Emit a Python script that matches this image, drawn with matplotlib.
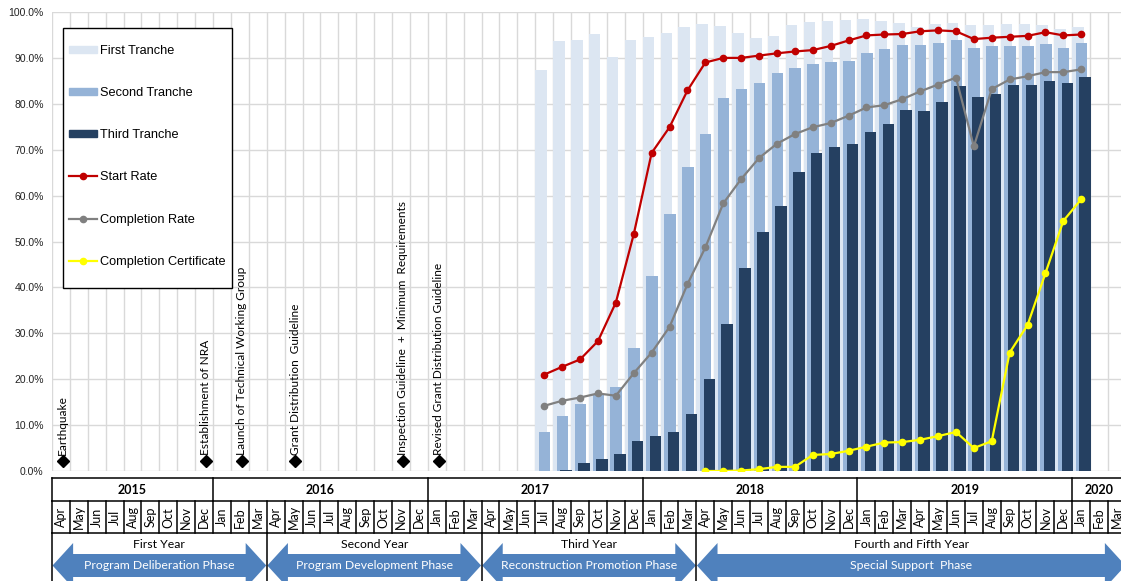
import matplotlib.pyplot as plt
from matplotlib.patches import Polygon, Rectangle, Patch
from matplotlib.lines import Line2D
import numpy as np

W, H = 1121, 581

# month axis: Apr 2015 .. Mar 2020
month_names = ['Jan', 'Feb', 'Mar', 'Apr', 'May', 'Jun', 'Jul', 'Aug', 'Sep', 'Oct', 'Nov', 'Dec']
n_months = 60
months = [month_names[(3 + i) % 12] for i in range(n_months)]

years = ['2015', '2016', '2017', '2018', '2019', '2020']
year_start = [0, 9, 21, 33, 45, 57]

phase_years = ['First Year', 'Second Year', 'Third Year', 'Fourth and Fifth Year']
phase_names = ['Program Deliberation Phase', 'Program Development Phase',
               'Reconstruction Promotion Phase', 'Special Support  Phase']
phase_bounds = [0, 12, 24, 36, 60]

events = ['Earthquake', 'Establishment of NRA', 'Launch of Technical Working Group',
          'Grant Distribution  Guideline', 'Inspection Guideline  +  Minimum  Requirements',
          'Revised Grant Distribution Guideline']
event_idx = [0, 8, 10, 13, 19, 21]

# series, Jul 2017 .. Jan 2020
bar_start = 27
first_tranche = [87.4, 93.7, 93.8, 95.2, 90.2, 93.8,
                 94.6, 95.5, 96.8, 97.4, 96.9, 95.4, 94.4, 94.8, 97.1, 97.8, 98.1, 98.3,
                 98.4, 98.1, 97.7, 96.8, 97.4, 97.7, 97.2, 97.2, 97.4, 97.4, 97.2, 96.4,
                 96.7]
second_tranche = [8.6, 12.0, 14.6, 16.6, 18.4, 26.9,
                  42.5, 56.0, 66.3, 73.4, 81.2, 83.2, 84.6, 86.8, 87.9, 88.7, 89.0, 89.3,
                  91.0, 91.9, 92.8, 92.8, 93.3, 93.8, 92.2, 92.5, 92.7, 92.7, 93.0, 92.1,
                  93.2]
third_tranche = [0.0, 0.2, 1.7, 2.7, 3.6, 6.5,
                 7.7, 8.6, 12.4, 20.0, 32.0, 44.2, 52.1, 57.7, 65.2, 69.2, 70.5, 71.2,
                 73.9, 75.7, 78.6, 78.5, 80.5, 83.9, 81.4, 82.2, 84.1, 84.2, 85.0, 84.6,
                 85.8]
start_rate = [21.0, 22.7, 24.3, 28.3, 36.7, 51.6,
              69.3, 74.9, 82.9, 89.0, 90.0, 90.0, 90.5, 91.0, 91.4, 91.7, 92.6, 93.8,
              94.9, 95.1, 95.2, 95.8, 96.0, 95.8, 94.1, 94.4, 94.6, 94.8, 95.6, 94.9,
              95.1]
completion_rate = [14.2, 15.3, 16.0, 16.9, 16.4, 21.3,
                   25.8, 31.4, 40.7, 48.7, 58.3, 63.6, 68.2, 71.3, 73.4, 74.9, 75.8, 77.4,
                   79.2, 79.7, 81.0, 82.7, 84.2, 85.7, 70.7, 83.2, 85.3, 86.0, 86.9, 86.9,
                   87.5]
# Apr 2018 .. Jan 2020
cert_start = 36
completion_cert = [0.0, 0.0, 0.1, 0.4, 0.9, 0.9, 3.5, 3.7, 4.4,
                   5.3, 6.2, 6.3, 6.8, 7.6, 8.5, 5.0, 6.5, 25.8, 31.8, 43.1, 54.5,
                   59.2]

c_light, c_mid, c_dark = '#DCE6F2', '#95B3D7', '#254061'
c_red, c_gray, c_yel = '#C00000', '#808080', '#FFFF00'
c_arrow = '#4F81BD'
tfont = 'Lato'

fig = plt.figure(figsize=(W / 100, H / 100), dpi=100)

# main chart
ax = fig.add_axes([52 / W, 1 - 471 / H, 1074 / W, 459 / H])
ax.set_xlim(0, n_months)
ax.set_ylim(0, 100)
ax.set_xticks(range(n_months + 1))
ax.set_yticks(range(0, 101, 10))
ax.set_yticklabels([f'{v:.1f}%' for v in range(0, 101, 10)],
                   fontsize=7.5, family='Liberation Sans', color='#222222')
ax.tick_params(axis='x', length=0, labelbottom=False)
ax.tick_params(axis='y', length=0, pad=6)
ax.grid(color='#D9D9D9', lw=1)
ax.set_axisbelow(True)
for s in ax.spines.values():
    s.set_visible(False)

x = np.arange(bar_start, bar_start + len(first_tranche))
bw = 0.64
ax.bar(x + 0.32, first_tranche, width=bw, color=c_light, zorder=2)
ax.bar(x + 0.52, second_tranche, width=bw, color=c_mid, zorder=2)
ax.bar(x + 0.72, third_tranche, width=bw, color=c_dark, zorder=2)

ax.plot(x + 0.5, start_rate, color=c_red, lw=1.6, marker='o', ms=4.5, zorder=5)
ax.plot(x + 0.5, completion_rate, color=c_gray, lw=1.6, marker='o', ms=4.5, zorder=5)
xc = np.arange(cert_start, cert_start + len(completion_cert))
ax.plot(xc + 0.5, completion_cert, color=c_yel, lw=1.6, marker='o', ms=4.5, zorder=5)

# milestones: diamond + vertical label
ev = np.array(event_idx) + 0.6
ax.plot(ev, [2.2] * len(ev), ls='none', marker='D', ms=6, color='black', zorder=6)
for name, xe in zip(events, ev):
    ax.text(xe, 3.4, name, rotation=90, ha='center', va='bottom',
            fontsize=8.6, family=tfont, zorder=6)

# legend with its own box
fig.add_artist(Rectangle((63 / W, 1 - 288 / H), 169 / W, 260 / H, transform=fig.transFigure,
                         facecolor='white', edgecolor='black', lw=1, zorder=4))
handles = [Patch(color=c_light), Patch(color=c_mid), Patch(color=c_dark),
           Line2D([], [], color=c_red, lw=1.6, marker='o', ms=4.5),
           Line2D([], [], color=c_gray, lw=1.6, marker='o', ms=4.5),
           Line2D([], [], color=c_yel, lw=1.6, marker='o', ms=4.5)]
labels = ['First Tranche', 'Second Tranche', 'Third Tranche', 'Start Rate',
          'Completion Rate', 'Completion Certificate']
fig.legend(handles, labels, loc='upper left', bbox_to_anchor=(69 / W, 1 - 45 / H),
           frameon=False, prop={'family': 'Liberation Sans', 'size': 9.2},
           handlelength=2.19, handleheight=0.5, handletextpad=0.25,
           labelspacing=2.36, borderaxespad=0, borderpad=0).set_zorder(5)

# timeline table below
tab = fig.add_axes([52 / W, 0, 1074 / W, (H - 478) / H])
tab.set_xlim(0, n_months)
tab.set_ylim(H, 478)
tab.axis('off')
y_top, y_mon, y_ph = 478, 501, 533.5
lk = dict(color='black', lw=1.1, clip_on=False)
for yy in (y_top, y_mon, y_ph):
    tab.plot([0, n_months], [yy, yy], **lk)
for b in year_start + [n_months]:
    tab.plot([b, b], [y_top, y_mon], **lk)
for b in range(n_months + 1):
    tab.plot([b, b], [y_mon, y_ph], **lk)
for b in phase_bounds:
    tab.plot([b, b], [y_ph, H + 5], **lk)

ends = year_start[1:] + [n_months]
for yr, a, b in zip(years, year_start, ends):
    tab.text((a + b) / 2, (y_top + y_mon) / 2 + 0.5, yr, ha='center', va='center',
             fontsize=9, fontweight='bold', family=tfont)
for i, m in enumerate(months):
    tab.text(i + 0.5, (y_mon + y_ph) / 2, m, rotation=90, ha='center', va='center',
             fontsize=9, family=tfont)

hl = 1.15
for k in range(len(phase_years)):
    x0, x1 = phase_bounds[k] + 0.03, phase_bounds[k + 1] - 0.03
    ym, bt, bb, ht, hb = 565.5, 554, 577, 543, 588
    pts = [(x0, ym), (x0 + hl, ht), (x0 + hl, bt), (x1 - hl, bt), (x1 - hl, ht), (x1, ym),
           (x1 - hl, hb), (x1 - hl, bb), (x0 + hl, bb), (x0 + hl, hb)]
    tab.add_patch(Polygon(pts, closed=True, facecolor=c_arrow, edgecolor='none', clip_on=False))
    xm = (phase_bounds[k] + phase_bounds[k + 1]) / 2
    tab.text(xm, 545, phase_years[k], ha='center', va='center', fontsize=8.8, family=tfont)
    tab.text(xm, ym, phase_names[k], ha='center', va='center', fontsize=8.8,
             family=tfont, color='white')

fig.savefig('out.png', dpi=100)
